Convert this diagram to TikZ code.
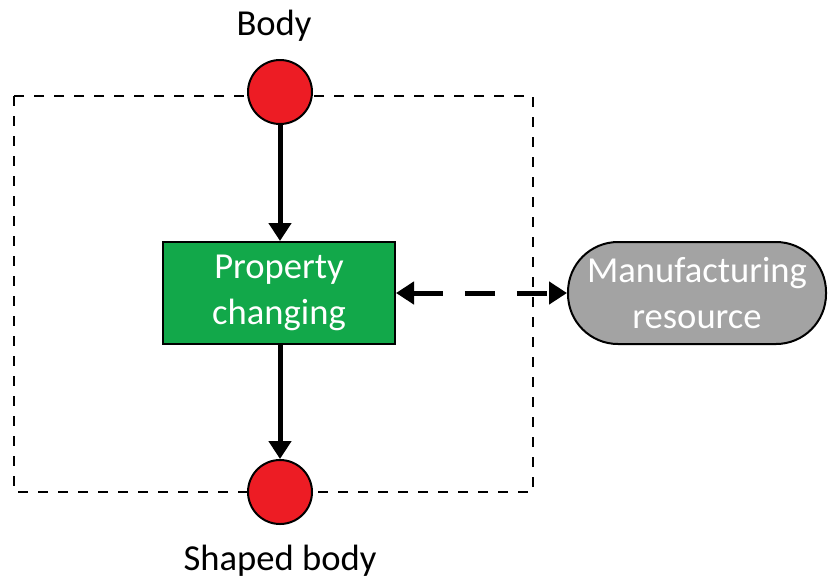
\documentclass[tikz,border=0pt]{standalone}
\usepackage{fontspec}
\setmainfont{Carlito}
\usetikzlibrary{arrows.meta}
\definecolor{portred}{HTML}{ED1C24}
\definecolor{procgreen}{HTML}{12A84A}
\definecolor{resgray}{HTML}{A3A3A3}
\begin{document}
\begin{tikzpicture}[x=0.5pt,y=-0.5pt,
  every node/.style={font=\fontsize{18.3}{23}\selectfont},
  port/.style={circle,draw=black,line width=1pt,fill=portred,minimum size=32pt,inner sep=0pt},
  procbox/.style={rectangle,draw=black,line width=1pt,fill=procgreen,text=white,
    minimum width=116pt,minimum height=51pt,align=center},
  resbox/.style={rectangle,rounded corners=25pt,draw=black,line width=1pt,fill=resgray,
    text=white,minimum width=129pt,minimum height=51pt,align=center},
  flow/.style={line width=2.5pt,-{Triangle[length=9pt,width=11pt]}},
  link/.style={line width=2.5pt,dash pattern=on 15pt off 11pt,
    {Triangle[length=9pt,width=11pt]}-{Triangle[length=9pt,width=11pt]}},
  boundary/.style={line width=1pt,dash pattern=on 5pt off 5pt}
]
\useasboundingbox (0,0) rectangle (828,579);
% system boundary
\draw[boundary] (14,96) rectangle (533,492);
% nodes
\node[port] (body) at (280,92) {};
\node[anchor=center] (bodylbl) at (274,26) {Body};
\node[procbox] (proc) at (279,293) {Property\\changing};
\node[port] (shaped) at (280,492) {};
\node[anchor=center] (shapedlbl) at (280,561) {Shaped body};
\node[resbox] (res) at (697,293) {Manufacturing\\resource};
% connectors
\draw[flow] (body) -- (body|-proc.north);
\draw[flow] (proc.south-|shaped) -- (shaped);
\draw[link] (proc) -- (res);
\end{tikzpicture}
\end{document}
